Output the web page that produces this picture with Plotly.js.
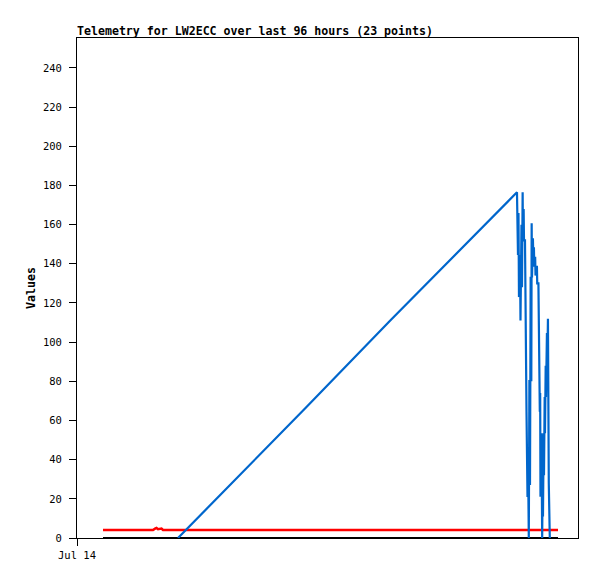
<!DOCTYPE html>
<html>
<head>
<meta charset="utf-8">
<script src="https://cdn.plot.ly/plotly-3.0.1.min.js"></script>
<style>html,body{margin:0;padding:0;background:#fff;}#chart{width:597px;height:579px;}</style>
</head>
<body>
<div id="chart"></div>
<script>
// Hours since Jul 14 00:00
var baseHours = [5.19, 96.01];
var baseValues = [0, 0];

var redHours = [5.19, 15.17, 15.57, 15.87, 16.17, 16.57, 16.87, 17.17, 96.01];
var redValues = [4.1, 4.1, 4.8, 5.1, 4.5, 4.9, 4.8, 4.1, 4.1];

var blueHours = [20.16, 28.14, 45.51, 62.48, 79.44, 87.82,
  88.02, 88.12, 88.22, 88.42, 88.52, 88.72, 88.82, 88.95, 89.02, 89.15, 89.22, 89.42, 89.52,
  89.72, 89.92, 90.05, 90.18, 90.30, 90.42, 90.55, 90.68, 90.75, 90.82, 91.00, 91.08, 91.20,
  91.28, 91.45, 91.52, 91.80, 91.86, 92.10, 92.18, 92.38, 92.45, 92.51, 92.70, 92.85, 92.95,
  93.01, 93.15, 93.21, 93.35, 93.41, 93.55, 93.61, 93.80, 93.85, 94.00, 94.05, 94.17, 94.37];
var blueValues = [0, 20.8, 66.1, 110.9, 155.1, 176.5,
  144.5, 166, 123, 144.5, 111, 160, 128, 176.5, 152, 168, 152, 152, 106,
  64.5, 21, 35, 0, 80.7, 27, 133.4, 80, 160.7, 133, 153, 143.6, 148.5,
  138.5, 143.6, 134, 139, 130, 130, 106, 64.5, 74, 21, 53.5, 0, 32,
  11, 53.5, 32, 72, 53.5, 88, 72, 104.6, 84, 112, 84, 28, 0];

var xTickVals = [0];
var xTickText = ['Jul 14'];
var yTickVals = [0, 20, 40, 60, 80, 100, 120, 140, 160, 180, 200, 220, 240];

var traces = [
  {x: baseHours, y: baseValues, mode: 'lines', line: {color: '#000000', width: 2}, hoverinfo: 'skip'},
  {x: redHours, y: redValues, mode: 'lines', line: {color: '#ff0000', width: 2.5}, hoverinfo: 'skip'},
  {x: blueHours, y: blueValues, mode: 'lines', line: {color: '#0066cc', width: 2.2}, hoverinfo: 'skip'}
];

var mono = '"DejaVu Sans Mono", "Liberation Mono", monospace';
var layout = {
  width: 597, height: 579,
  margin: {l: 77, r: 19, t: 38, b: 41, pad: 0},
  paper_bgcolor: '#ffffff', plot_bgcolor: '#ffffff',
  showlegend: false,
  title: {
    text: '<b>Telemetry for LW2ECC over last 96 hours (23 points)</b>',
    font: {family: mono, size: 11.6, color: '#000'},
    x: 0, xref: 'paper', xanchor: 'left',
    y: 1 - 31/579, yref: 'container', yanchor: 'middle'
  },
  xaxis: {
    range: [0, 100], showgrid: false, zeroline: false,
    showline: true, mirror: true, linecolor: '#000', linewidth: 1,
    ticks: 'outside', ticklen: 7, tickcolor: '#000', tickwidth: 1,
    tickmode: 'array', tickvals: xTickVals, ticktext: xTickText,
    tickfont: {family: mono, size: 10.5, color: '#000'}
  },
  yaxis: {
    range: [0, 255.3], showgrid: false, zeroline: false,
    showline: true, mirror: true, linecolor: '#000', linewidth: 1,
    ticks: 'outside', ticklen: 7, tickcolor: '#000', tickwidth: 1,
    tickmode: 'array', tickvals: yTickVals, ticklabelstandoff: 5,
    tickfont: {family: mono, size: 10.5, color: '#000'},
    title: {text: '<b>Values</b>', font: {family: mono, size: 11.6, color: '#000'}, standoff: 4}
  }
};

Plotly.newPlot('chart', traces, layout, {staticPlot: true, displayModeBar: false});
</script>
</body>
</html>
